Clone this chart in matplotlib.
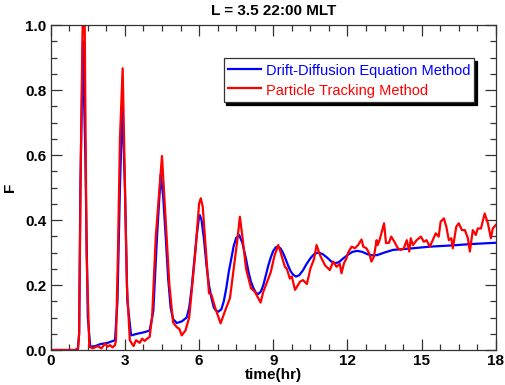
import matplotlib
matplotlib.use('Agg')
import matplotlib.pyplot as plt
from matplotlib.ticker import MultipleLocator

# drift-diffusion (blue) curve
t_dd = [0.0, 1.0, 1.1, 1.15, 1.2, 1.3, 1.4, 1.5, 1.6, 1.8, 2.0, 2.3, 2.6, 2.7, 2.8, 2.9,
        3.0, 3.1, 3.25, 3.5, 3.8, 4.0, 4.15, 4.3, 4.45, 4.55, 4.65, 4.75, 4.85, 4.95,
        5.1, 5.3, 5.5, 5.6, 5.7, 5.8, 5.9, 6.0, 6.03, 6.1, 6.2, 6.3, 6.4, 6.5, 6.6,
        6.7, 6.78, 6.9, 7.0, 7.1, 7.2, 7.3, 7.4, 7.5, 7.62, 7.75, 7.9, 8.0, 8.1, 8.2,
        8.3, 8.39, 8.5, 8.6, 8.7, 8.8, 8.9, 9.0, 9.1, 9.2, 9.3, 9.4, 9.5, 9.6, 9.7,
        9.8, 9.92, 10.05, 10.2, 10.35, 10.5, 10.65, 10.82, 11.0, 11.2, 11.35, 11.49,
        11.65, 11.8, 12.0, 12.2, 12.4, 12.6, 12.8, 13.0, 13.2, 13.5, 13.84, 14.5,
        15.33, 16.26, 17.0, 18.0]
f_dd = [0.0, 0.0, 0.005, 0.05, 0.5, 0.95, 0.6, 0.1, 0.01, 0.012, 0.018, 0.022, 0.03, 0.15,
        0.5, 0.76, 0.5, 0.15, 0.045, 0.05, 0.055, 0.06, 0.12, 0.35, 0.54, 0.47, 0.35,
        0.22, 0.13, 0.095, 0.083, 0.088, 0.1, 0.13, 0.19, 0.27, 0.35, 0.41, 0.415,
        0.40, 0.34, 0.26, 0.2, 0.16, 0.13, 0.12, 0.118, 0.125, 0.15, 0.19, 0.24, 0.28,
        0.32, 0.345, 0.354, 0.33, 0.28, 0.24, 0.21, 0.19, 0.176, 0.172, 0.18, 0.2,
        0.23, 0.26, 0.285, 0.305, 0.316, 0.318, 0.312, 0.298, 0.28, 0.26, 0.243,
        0.232, 0.226, 0.23, 0.245, 0.265, 0.282, 0.295, 0.30, 0.295, 0.283, 0.272,
        0.267, 0.27, 0.28, 0.292, 0.302, 0.305, 0.302, 0.295, 0.291, 0.292, 0.3,
        0.308, 0.312, 0.318, 0.322, 0.326, 0.33]

# particle tracking (red) curve
t_pt = [0.0, 1.1, 1.15, 1.22, 1.3, 1.37, 1.45, 1.56, 1.7, 1.9, 2.05, 2.2, 2.3, 2.4, 2.5,
        2.6, 2.64, 2.72, 2.8, 2.91, 2.98, 3.08, 3.2, 3.35, 3.45, 3.6, 3.7, 3.8, 3.9,
        4.0, 4.1, 4.25, 4.5, 4.65, 4.8, 4.95, 5.1, 5.2, 5.3, 5.45, 5.6, 5.85, 6.0,
        6.07, 6.15, 6.4, 6.5, 6.65, 6.87, 7.05, 7.25, 7.4, 7.55, 7.65, 7.75, 7.9, 8.1,
        8.25, 8.49, 8.6, 8.73, 8.9, 9.05, 9.2, 9.3, 9.47, 9.55, 9.67, 9.75, 9.88,
        10.08, 10.2, 10.36, 10.5, 10.65, 10.75, 10.9, 11.1, 11.29, 11.42, 11.56,
        11.69, 11.76, 11.86, 11.96, 12.03, 12.17, 12.3, 12.43, 12.57, 12.64, 12.77,
        12.88, 12.97, 13.07, 13.18, 13.22, 13.3, 13.48, 13.56, 13.68, 13.77, 13.9,
        14.04, 14.16, 14.28, 14.4, 14.5, 14.56, 14.65, 14.8, 14.97, 15.09, 15.2,
        15.33, 15.45, 15.57, 15.69, 15.77, 15.9, 16.0, 16.1, 16.2, 16.26, 16.4, 16.5,
        16.63, 16.75, 16.87, 16.95, 17.07, 17.19, 17.27, 17.4, 17.55, 17.68, 17.8,
        17.88, 18.0]
f_pt = [0.0, 0.0, 0.05, 0.6, 1.05, 1.05, 0.3, 0.01, 0.005, 0.012, 0.005, 0.02, 0.01,
        0.015, 0.008, 0.015, 0.03, 0.3, 0.65, 0.867, 0.6, 0.2, 0.03, 0.012, 0.03,
        0.022, 0.035, 0.028, 0.035, 0.04, 0.1, 0.35, 0.597, 0.4, 0.2, 0.085, 0.07,
        0.065, 0.045, 0.06, 0.1, 0.3, 0.45, 0.467, 0.44, 0.175, 0.17, 0.13, 0.082,
        0.12, 0.16, 0.25, 0.34, 0.41, 0.35, 0.25, 0.19, 0.18, 0.146, 0.18, 0.205, 0.24,
        0.29, 0.323, 0.3, 0.256, 0.25, 0.22, 0.226, 0.185, 0.21, 0.215, 0.203, 0.25,
        0.28, 0.323, 0.29, 0.26, 0.246, 0.272, 0.256, 0.265, 0.236, 0.267, 0.282,
        0.30, 0.318, 0.313, 0.323, 0.34, 0.318, 0.313, 0.297, 0.272, 0.287, 0.338,
        0.323, 0.338, 0.39, 0.329, 0.33, 0.349, 0.333, 0.313, 0.308, 0.313, 0.338,
        0.303, 0.344, 0.323, 0.338, 0.349, 0.333, 0.338, 0.318, 0.338, 0.359, 0.349,
        0.395, 0.405, 0.379, 0.338, 0.344, 0.313, 0.379, 0.39, 0.369, 0.369, 0.344,
        0.303, 0.369, 0.354, 0.374, 0.374, 0.42, 0.39, 0.344, 0.374, 0.385]

plt.rcParams['font.family'] = ['Liberation Sans', 'DejaVu Sans']

fig = plt.figure(figsize=(5.05, 3.85), dpi=100)
ax = fig.add_axes([0.1004, 0.0909, 0.8814, 0.8441])

ax.plot(t_dd, f_dd, color='#0000ff', lw=1.6, label='Drift-Diffusion Equation Method')
ax.plot(t_pt, f_pt, color='#ff0000', lw=1.6, label='Particle Tracking Method')

ax.set_xlim(0, 18)
ax.set_ylim(0, 1.0)
ax.xaxis.set_major_locator(MultipleLocator(3))
ax.xaxis.set_minor_locator(MultipleLocator(0.75))
ax.yaxis.set_major_locator(MultipleLocator(0.2))
ax.yaxis.set_minor_locator(MultipleLocator(0.05))
ax.yaxis.set_major_formatter(plt.FormatStrFormatter('%.1f'))
ax.tick_params(which='both', direction='in', top=True, right=True, width=0.9, color='#333333')
ax.tick_params(which='major', length=8, labelsize=11, pad=3)
ax.tick_params(which='minor', length=4.5)
for lab in ax.get_xticklabels() + ax.get_yticklabels():
    lab.set_fontweight('bold')
for s in ax.spines.values():
    s.set_color('#333333')
    s.set_linewidth(0.9)

ax.set_xlabel('time(hr)', fontsize=11, fontweight='bold', labelpad=0)
ax.set_ylabel('F', fontsize=11, fontweight='bold', labelpad=6)
ax.set_title('L = 3.5 22:00 MLT', fontsize=11, fontweight='bold', pad=7)

leg = ax.legend(loc='upper right', bbox_to_anchor=(0.952, 0.898), borderaxespad=0,
                fancybox=False, shadow={'color': 'black', 'alpha': 1}, labelcolor='linecolor',
                fontsize=10.5, handlelength=2.27, handleheight=1.3, handletextpad=0.35,
                borderpad=0.28, labelspacing=0.25, framealpha=1)
leg.get_frame().set_edgecolor('#333333')
leg.get_frame().set_linewidth(0.9)

fig.savefig('out.png', dpi=100)
